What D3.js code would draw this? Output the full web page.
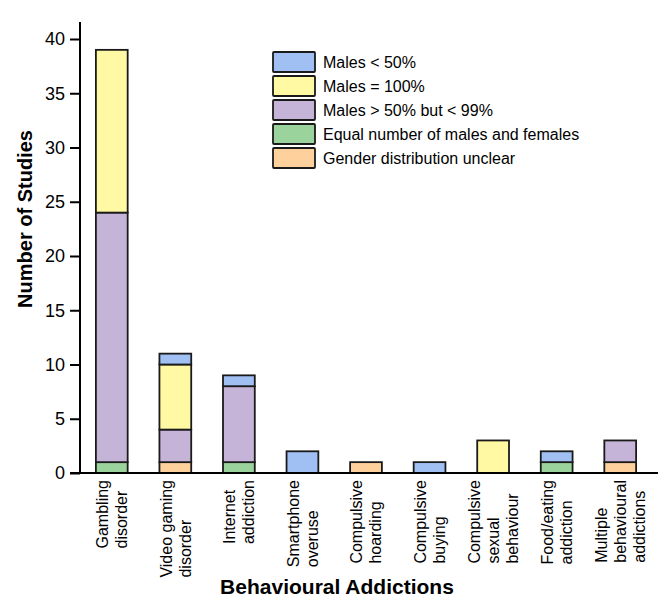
<!DOCTYPE html>
<html>
<head>
<meta charset="utf-8">
<script src="https://cdn.jsdelivr.net/npm/d3@7"></script>
<style>
  body { margin: 0; background: #fff; }
  svg { display: block; font-family: "Liberation Sans", Arial, sans-serif; }
</style>
</head>
<body>
<svg id="chart" width="664" height="600"></svg>
<script>
// ---- data ----
const categories = [
  "Gambling disorder", "Video gaming disorder", "Internet addiction",
  "Smartphone overuse", "Compulsive hoarding", "Compulsive buying",
  "Compulsive sexual behaviour", "Food/eating addiction", "Multiple behavioural addictions"
];
const categoryLines = [
  ["Gambling", "disorder"],
  ["Video gaming", "disorder"],
  ["Internet", "addiction"],
  ["Smartphone", "overuse"],
  ["Compulsive", "hoarding"],
  ["Compulsive", "buying"],
  ["Compulsive", "sexual", "behaviour"],
  ["Food/eating", "addiction"],
  ["Multiple", "behavioural", "addictions"]
];
// stack order bottom -> top
const seriesNames = [
  "Gender distribution unclear",
  "Equal number of males and females",
  "Males > 50% but < 99%",
  "Males = 100%",
  "Males < 50%"
];
const unclear   = [0, 1, 0, 0, 1, 0, 0, 0, 1];
const equal     = [1, 0, 1, 0, 0, 0, 0, 1, 0];
const males50to99 = [23, 3, 7, 0, 0, 0, 0, 0, 2];
const males100  = [15, 6, 0, 0, 0, 0, 3, 0, 0];
const malesLt50 = [0, 1, 1, 2, 0, 1, 0, 1, 0];
const seriesValues = [unclear, equal, males50to99, males100, malesLt50];
const legendOrder = [
  "Males < 50%",
  "Males = 100%",
  "Males > 50% but < 99%",
  "Equal number of males and females",
  "Gender distribution unclear"
];
const yTicks = [0, 5, 10, 15, 20, 25, 30, 35, 40];

const colors = {
  "Gender distribution unclear": "#fdd09c",
  "Equal number of males and females": "#9bd39d",
  "Males > 50% but < 99%": "#c6b4d8",
  "Males = 100%": "#fff9a3",
  "Males < 50%": "#a0c0f4"
};

// ---- build table ----
const table = categories.map((c, i) => {
  const row = { category: c };
  seriesNames.forEach((s, k) => row[s] = seriesValues[k][i]);
  return row;
});
const stacked = d3.stack().keys(seriesNames)(table);

const svg = d3.select("#chart");

const x = d3.scaleBand().domain(categories).range([80, 652]).paddingInner(0.5).paddingOuter(0.25);
const y = d3.scaleLinear().domain([0, 40]).range([473, 39]);

// bars
const layers = svg.append("g").selectAll("g").data(stacked).join("g")
  .attr("fill", d => colors[d.key]);
layers.selectAll("rect")
  .data(d => d.filter(p => p[1] - p[0] > 0))
  .join("rect")
  .attr("x", p => x(p.data.category))
  .attr("width", x.bandwidth())
  .attr("y", p => y(p[1]))
  .attr("height", p => y(p[0]) - y(p[1]))
  .attr("stroke", "#1a1a1a")
  .attr("stroke-width", 1.8);

// y axis
const yAxis = d3.axisLeft(y).tickValues(yTicks).tickSize(10).tickPadding(5).tickSizeOuter(0);
const yg = svg.append("g").attr("transform", "translate(80,0)").call(yAxis);
yg.select(".domain").remove();
yg.selectAll(".tick line").attr("stroke", "#000").attr("stroke-width", 2);
yg.selectAll(".tick text").attr("font-size", 18).attr("fill", "#000")
  .attr("font-family", "Liberation Sans, Arial, sans-serif");
svg.append("line").attr("x1", 80).attr("x2", 80).attr("y1", 22).attr("y2", 474)
  .attr("stroke", "#000").attr("stroke-width", 2);

// x axis line
svg.append("line").attr("x1", 70).attr("x2", 658).attr("y1", y(0)).attr("y2", y(0))
  .attr("stroke", "#000").attr("stroke-width", 2);

// x tick labels (rotated, multi-line, start-aligned at bottom)
const lh = 19;
categories.forEach((c, i) => {
  const lines = categoryLines[i];
  const cx = x(c) + x.bandwidth() / 2;
  const g = svg.append("g").attr("transform", `translate(${cx},480) rotate(-90)`);
  const texts = lines.map((ln, j) => g.append("text")
    .attr("font-size", 16).attr("fill", "#000")
    .attr("y", -(lines.length - 1) * lh / 2 + 5.75 + j * lh)
    .text(ln));
  const w = d3.max(texts, t => t.node().getComputedTextLength());
  texts.forEach(t => t.attr("x", -w).attr("text-anchor", "start"));
});

// axis titles
svg.append("text").attr("x", 337).attr("y", 594).attr("text-anchor", "middle")
  .attr("font-size", 21).attr("font-weight", "bold").attr("fill", "#000")
  .text("Behavioural Addictions");
svg.append("text").attr("transform", "translate(32,219) rotate(-90)")
  .attr("text-anchor", "middle").attr("font-size", 20).attr("font-weight", "bold").attr("fill", "#000")
  .text("Number of Studies");

// legend
const lg = svg.append("g").attr("transform", "translate(273,52)");
legendOrder.forEach((name, i) => {
  const row = lg.append("g").attr("transform", `translate(0,${i * 24})`);
  row.append("rect").attr("width", 42).attr("height", 20).attr("rx", 1)
    .attr("fill", colors[name]).attr("stroke", "#1a1a1a").attr("stroke-width", 1.8);
  row.append("text").attr("x", 50).attr("y", 15.5).attr("font-size", 16).attr("fill", "#000")
    .text(name);
});
</script>
</body>
</html>
